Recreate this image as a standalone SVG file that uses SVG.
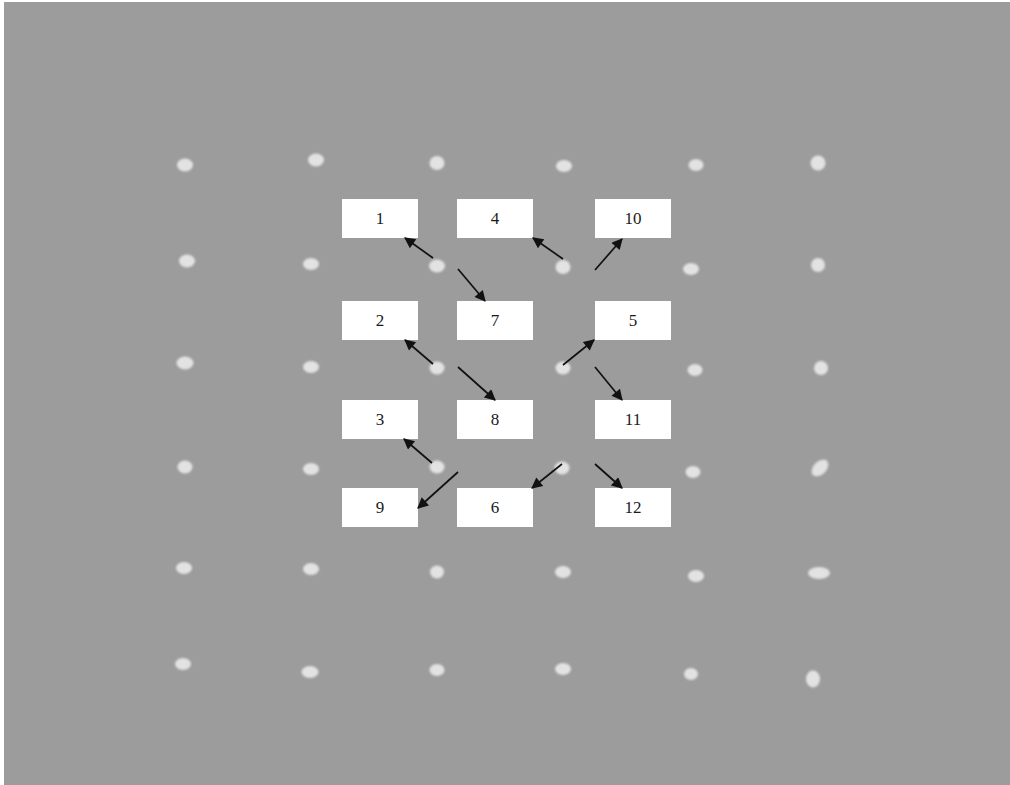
<svg xmlns="http://www.w3.org/2000/svg" width="1010" height="785" viewBox="0 0 1010 785">
<style>
.box{fill:#ffffff}
.lbl{font-family:"Liberation Serif","Times New Roman",serif;font-size:17px;fill:#1a1a1a;text-anchor:middle}
.dot{fill:#e2e2e2;filter:url(#blur)}
.arr{stroke:#111;stroke-width:1.7;fill:none;marker-end:url(#ah)}
</style>
<defs>
<marker id="ah" viewBox="0 0 10 10" refX="9" refY="5" markerWidth="14" markerHeight="11" markerUnits="userSpaceOnUse" orient="auto"><path d="M0,0 L10,5 L0,10 z" fill="#111"/></marker>
<filter id="blur" x="-50%" y="-50%" width="200%" height="200%"><feGaussianBlur stdDeviation="0.8"/></filter>
</defs>
<rect x="0" y="0" width="1010" height="785" fill="#ffffff"/>
<rect x="4" y="2" width="1006" height="783" fill="#9c9c9c"/>
<g id="dots">
<ellipse class="dot" cx="185" cy="165" rx="8" ry="6.5"/>
<ellipse class="dot" cx="316" cy="160" rx="8" ry="6.5"/>
<ellipse class="dot" cx="437" cy="163" rx="7.5" ry="7"/>
<ellipse class="dot" cx="564" cy="166" rx="8" ry="6"/>
<ellipse class="dot" cx="696" cy="165" rx="7.5" ry="6"/>
<ellipse class="dot" cx="818" cy="163" rx="7.5" ry="7.5"/>
<ellipse class="dot" cx="187" cy="261" rx="8" ry="6.5"/>
<ellipse class="dot" cx="311" cy="264" rx="8" ry="6"/>
<ellipse class="dot" cx="437" cy="266" rx="8" ry="6.5"/>
<ellipse class="dot" cx="563" cy="267" rx="7.5" ry="7"/>
<ellipse class="dot" cx="691" cy="269" rx="8" ry="6"/>
<ellipse class="dot" cx="818" cy="265" rx="7" ry="7"/>
<ellipse class="dot" cx="185" cy="363" rx="8.5" ry="6.5"/>
<ellipse class="dot" cx="311" cy="367" rx="8" ry="6"/>
<ellipse class="dot" cx="437" cy="368" rx="7.5" ry="6.5"/>
<ellipse class="dot" cx="563" cy="368" rx="7.5" ry="6.5"/>
<ellipse class="dot" cx="695" cy="370" rx="7.5" ry="6"/>
<ellipse class="dot" cx="821" cy="368" rx="7" ry="7"/>
<ellipse class="dot" cx="185" cy="467" rx="7.5" ry="6.5"/>
<ellipse class="dot" cx="311" cy="469" rx="8" ry="6"/>
<ellipse class="dot" cx="437" cy="467" rx="7.5" ry="6.5"/>
<ellipse class="dot" cx="562" cy="468" rx="7.5" ry="6.5"/>
<ellipse class="dot" cx="693" cy="472" rx="7.5" ry="6"/>
<ellipse class="dot" cx="820" cy="468" rx="10" ry="6.5" transform="rotate(-45 820 468)"/>
<ellipse class="dot" cx="184" cy="568" rx="8" ry="6"/>
<ellipse class="dot" cx="311" cy="569" rx="8" ry="6"/>
<ellipse class="dot" cx="437" cy="572" rx="7" ry="6.5"/>
<ellipse class="dot" cx="563" cy="572" rx="8" ry="6"/>
<ellipse class="dot" cx="696" cy="576" rx="8" ry="6"/>
<ellipse class="dot" cx="819" cy="573" rx="11" ry="6"/>
<ellipse class="dot" cx="183" cy="664" rx="8" ry="6"/>
<ellipse class="dot" cx="310" cy="672" rx="8.5" ry="6"/>
<ellipse class="dot" cx="437" cy="670" rx="7.5" ry="6"/>
<ellipse class="dot" cx="563" cy="669" rx="8" ry="6"/>
<ellipse class="dot" cx="691" cy="674" rx="7" ry="6"/>
<ellipse class="dot" cx="813" cy="679" rx="7" ry="8.5"/>
</g>
<g id="node-1"><rect class="box" x="342" y="199" width="76" height="39"/><text class="lbl" x="380" y="224">1</text></g>
<g id="node-4"><rect class="box" x="457" y="199" width="76" height="39"/><text class="lbl" x="495" y="224">4</text></g>
<g id="node-10"><rect class="box" x="595" y="199" width="76" height="39"/><text class="lbl" x="633" y="224">10</text></g>
<g id="node-2"><rect class="box" x="342" y="301" width="76" height="39"/><text class="lbl" x="380" y="326">2</text></g>
<g id="node-7"><rect class="box" x="457" y="301" width="76" height="39"/><text class="lbl" x="495" y="326">7</text></g>
<g id="node-5"><rect class="box" x="595" y="301" width="76" height="39"/><text class="lbl" x="633" y="326">5</text></g>
<g id="node-3"><rect class="box" x="342" y="400" width="76" height="39"/><text class="lbl" x="380" y="425">3</text></g>
<g id="node-8"><rect class="box" x="457" y="400" width="76" height="39"/><text class="lbl" x="495" y="425">8</text></g>
<g id="node-11"><rect class="box" x="595" y="400" width="76" height="39"/><text class="lbl" x="633" y="425">11</text></g>
<g id="node-9"><rect class="box" x="342" y="488" width="76" height="39"/><text class="lbl" x="380" y="513">9</text></g>
<g id="node-6"><rect class="box" x="457" y="488" width="76" height="39"/><text class="lbl" x="495" y="513">6</text></g>
<g id="node-12"><rect class="box" x="595" y="488" width="76" height="39"/><text class="lbl" x="633" y="513">12</text></g>
<g id="connectors">
<line class="arr" x1="433" y1="258" x2="405" y2="238"/>
<line class="arr" x1="458" y1="269" x2="485" y2="301"/>
<line class="arr" x1="563" y1="259" x2="533" y2="238"/>
<line class="arr" x1="595" y1="270" x2="622" y2="239"/>
<line class="arr" x1="433" y1="364" x2="405" y2="340"/>
<line class="arr" x1="458" y1="367" x2="495" y2="400"/>
<line class="arr" x1="563" y1="365" x2="594" y2="340"/>
<line class="arr" x1="595" y1="367" x2="622" y2="400"/>
<line class="arr" x1="432" y1="463" x2="404" y2="439"/>
<line class="arr" x1="458" y1="472" x2="418" y2="508"/>
<line class="arr" x1="562" y1="464" x2="532" y2="488"/>
<line class="arr" x1="595" y1="464" x2="622" y2="488"/>
</g>
</svg>
